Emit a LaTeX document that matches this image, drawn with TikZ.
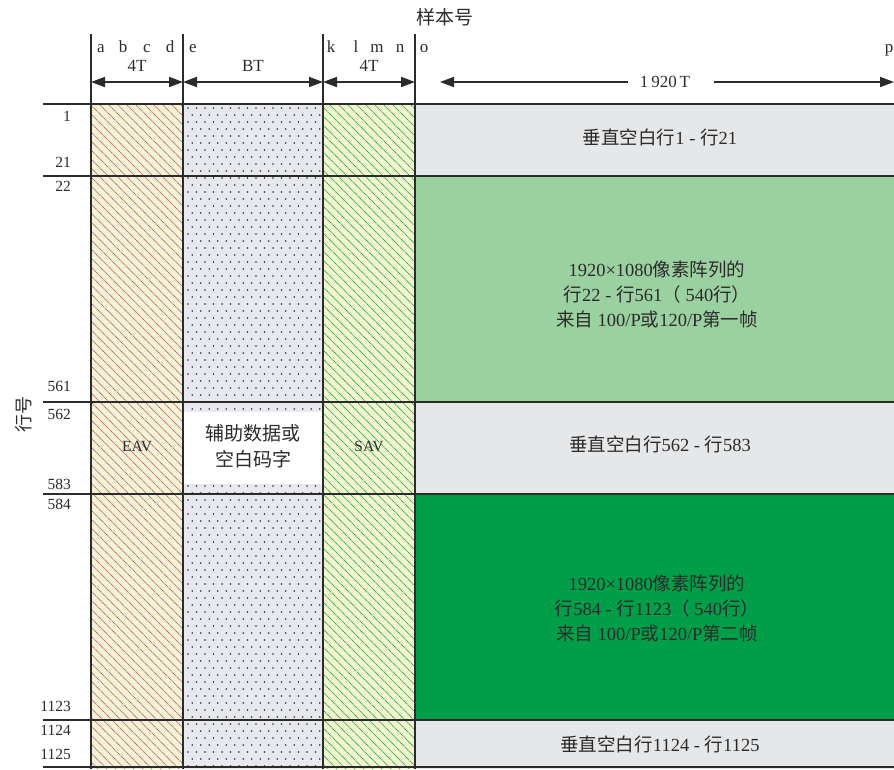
\documentclass[tikz,border=0pt]{standalone}
\usepackage{fontspec}
\setmainfont{Liberation Serif}
\newfontfamily\cjk{Noto Sans CJK SC}
\usetikzlibrary{arrows.meta}
\newcommand\zh[1]{{\cjk #1}}
\definecolor{grayfill}{HTML}{E6E7E9}
\definecolor{lgreen}{HTML}{9BD0A0}
\definecolor{dgreen}{HTML}{009E49}
\definecolor{yfill}{HTML}{F3F5D1}
\definecolor{btfill}{HTML}{E8E9EE}
\definecolor{pinkline}{HTML}{C8609A}
\definecolor{greenline}{HTML}{2EB04A}
\definecolor{ink}{HTML}{2B2B2B}
\tikzset{
  txt/.style={font=\fontsize{15.5}{19}\selectfont, text=ink, inner sep=0pt},
  small/.style={font=\fontsize{17}{20}\selectfont, text=ink, inner sep=0pt},
  block/.style={font=\fontsize{18.5}{25}\selectfont, text=ink, align=center, inner sep=0pt},
  hline/.style={draw=ink, line width=2pt},
  vline/.style={draw=ink, line width=1.5pt},
  dim/.style={draw=ink, line width=1.8pt, {Triangle[length=14pt,width=10pt]}-{Triangle[length=14pt,width=10pt]}},
  dimr/.style={draw=ink, line width=1.8pt, -{Triangle[length=14pt,width=10pt]}},
}
\begin{document}
\begin{tikzpicture}[x=1pt,y=-1pt]
\useasboundingbox (0,0) rectangle (894,769);
% column fills
\fill[yfill] (91,104) rectangle (183,769);
\fill[btfill] (183,104) rectangle (323,769);
\fill[yfill] (323,104) rectangle (415,769);
% hatching EAV
\begin{scope}
\clip (91,104) rectangle (183,769);
\foreach \c in {-680,-671,...,90} \draw[pinkline, line width=0.8pt, dash pattern=on 1.2pt off 0.6pt] (\c+104,104) -- (\c+769,769);
\end{scope}
% hatching SAV
\begin{scope}
\clip (323,104) rectangle (415,769);
\foreach \c in {-450,-441,...,320} \draw[greenline, line width=0.8pt, dash pattern=on 1.2pt off 0.6pt] (\c+104,104) -- (\c+769,769);
\end{scope}
% dots BT
\foreach \j in {0,...,94} {
  \pgfmathsetmacro\off{mod(\j,2)*4.25}
  \foreach \i in {0,...,15} \fill[ink] (188+\i*8.5+\off,108+\j*7) circle (0.95);
}
\fill[white] (184,412) rectangle (322,484);
% right blocks
\fill[grayfill] (415,104) rectangle (894,176);
\fill[lgreen] (415,176) rectangle (894,402);
\fill[grayfill] (415,402) rectangle (894,494);
\fill[dgreen] (415,494) rectangle (894,720);
\fill[grayfill] (415,720) rectangle (894,769);
% grid lines
\foreach \y in {104,176,402,494,720,767} \draw[hline] (43,\y) -- (894,\y);
\foreach \x/\n in {91/va,183/vb,323/vc,415/vd} {
  \draw[vline] (\x,34) -- (\x,769);
  \coordinate (\n) at (\x,82);
}
\coordinate (pe) at (894,82);
\coordinate (oe) at (440,82);
% dimension arrows
\draw[dim] (va) -- (vb);
\draw[dim] (vb) -- (vc);
\draw[dim] (vc) -- (vd);
\node[small] (tt) at (665,82) {1\,920\,T};
\draw[dimr] ([xshift=-12pt]tt.west) -- (oe);
\draw[dimr] ([xshift=24pt]tt.east) -- (pe);
% header labels
\node[txt, font=\fontsize{19}{22}\selectfont] (sample) at (445,17) {\zh{样本号}};
\foreach \x/\l in {101/a,123/b,147/c,170/d,193/e,331/k,356/l,377/m,400/n,424/o,889/p}
  \node[small, anchor=base] (l\l) at (\x,52) {\l};
\node[small] (t4a) at (137,66) {4T};
\node[small] (tbt) at (253,66) {BT};
\node[small] (t4b) at (369,66) {4T};
% row numbers
\foreach \y/\t in {116/1,162/21,186/22,386/561,414/562,484/583,504/584,706/1123,730/1124,754/1125}
  \node[txt, anchor=east] (r\t) at (71,\y) {\t};
\node[txt, rotate=90, font=\fontsize{18}{20}\selectfont] (rowlab) at (24,414) {\zh{行号}};
% column labels
\node[txt] (eav) at (137,446) {EAV};
\node[txt] (sav) at (369,446) {SAV};
\node[block, font=\fontsize{19}{26}\selectfont] (anc) at (253,446) {\zh{辅助数据或}\\\zh{空白码字}};
% block texts
\node[block] (b1) at (660,137) {\zh{垂直空白行}1 - \zh{行}21};
\node[block] (b2) at (657,294) {1920×1080\zh{像素阵列的}\\\zh{行}22 - \zh{行}561\zh{（} 540\zh{行）}\\\zh{来自} 100/P\zh{或}120/P\zh{第一帧}};
\node[block] (b3) at (660,444) {\zh{垂直空白行}562 - \zh{行}583};
\node[block] (b4) at (657,608) {1920×1080\zh{像素阵列的}\\\zh{行}584 - \zh{行}1123\zh{（} 540\zh{行）}\\\zh{来自} 100/P\zh{或}120/P\zh{第二帧}};
\node[block] (b5) at (660,744) {\zh{垂直空白行}1124 - \zh{行}1125};
\end{tikzpicture}
\end{document}
